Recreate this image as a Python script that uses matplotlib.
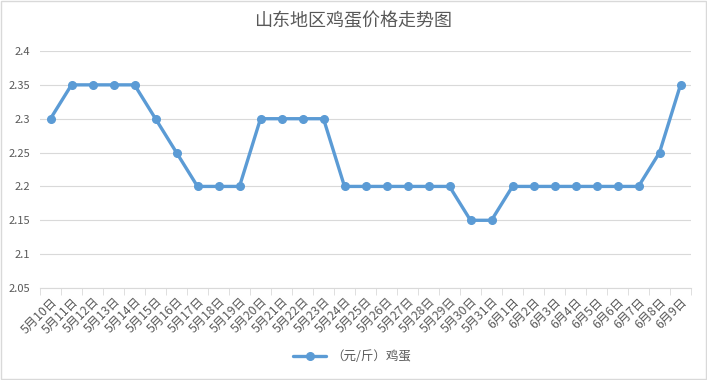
import numpy as np
import matplotlib
matplotlib.use("Agg")
import matplotlib.pyplot as plt
from matplotlib.patches import Rectangle

plt.rcParams["font.family"] = ["Noto Sans CJK SC", "DejaVu Sans"]

dates = [f"5月{d}日" for d in range(10, 32)] + [f"6月{d}日" for d in range(1, 10)]
prices = [2.3, 2.35, 2.35, 2.35, 2.35, 2.3, 2.25, 2.2, 2.2, 2.2,
          2.3, 2.3, 2.3, 2.3, 2.2, 2.2, 2.2, 2.2, 2.2, 2.2,
          2.15, 2.15, 2.2, 2.2, 2.2, 2.2, 2.2, 2.2, 2.2, 2.25, 2.35]
yticks = [2.05, 2.1, 2.15, 2.2, 2.25, 2.3, 2.35, 2.4]
ytick_labels = ["2.05", "2.1", "2.15", "2.2", "2.25", "2.3", "2.35", "2.4"]

line_color = "#5B9BD5"
text_color = "#595959"
grid_color = "#D9D9D9"

fig = plt.figure(figsize=(7.07, 3.8), dpi=100)
ax = fig.add_axes([40 / 707, 1 - 288 / 380, 651 / 707, 237 / 380])

x = np.arange(len(dates))
ax.plot(x, prices, color=line_color, linewidth=2.4, marker="o",
        markersize=5.5, label="（元/斤）鸡蛋", solid_capstyle="round")

ax.set_xlim(-0.5, len(dates) - 0.5)
ax.set_ylim(2.05, 2.4)
ax.set_yticks(yticks)
ax.set_yticklabels(ytick_labels)
ax.grid(axis="y", color=grid_color, linewidth=0.8)
ax.set_axisbelow(True)

ax.set_xticks(x)
ax.set_xticklabels(dates, rotation=45, ha="right", va="top",
                   rotation_mode="anchor", fontsize=8.8, color=text_color)
ax.tick_params(axis="x", length=0, pad=5)
ax.set_xticks(np.arange(-0.5, len(dates)), minor=True)
ax.tick_params(axis="x", which="minor", length=5, color=grid_color)
ax.tick_params(axis="y", length=0, labelsize=8, labelcolor=text_color, pad=7)

for side in ["top", "right", "left"]:
    ax.spines[side].set_visible(False)
ax.spines["bottom"].set_color(grid_color)

fig.text(0.5, 1 - 21 / 380, "山东地区鸡蛋价格走势图", ha="center", va="center",
         fontsize=13, color=text_color)

fig.legend(loc="center", bbox_to_anchor=(0.498, 1 - 357 / 380), frameon=False,
           fontsize=9, labelcolor=text_color, handlelength=2.6, handletextpad=0.4)

fig.patches.append(Rectangle((0.002, 0.003), 0.996, 0.994, transform=fig.transFigure,
                             fill=False, edgecolor="#D9D9D9", linewidth=1))

fig.savefig("out.png", dpi=100, facecolor="white")
